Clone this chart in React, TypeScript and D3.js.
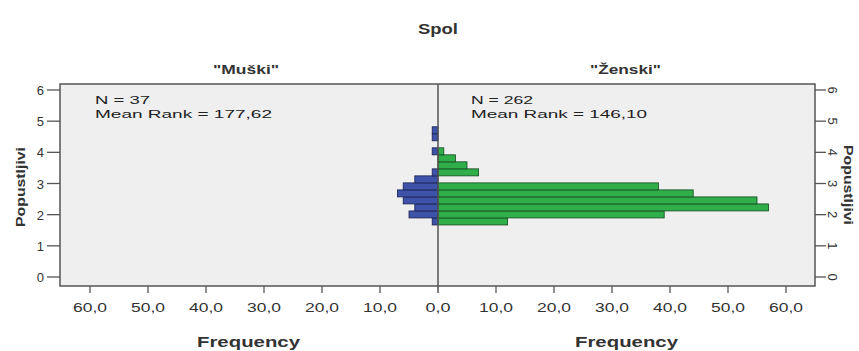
import React from "react";
import * as d3 from "d3";

const binLower = [1.67, 1.895, 2.12, 2.345, 2.57, 2.795, 3.02, 3.245, 3.47, 3.695, 3.92, 4.145, 4.37, 4.595];
const binWidth = 0.225;
const muskiFreq = [1, 5, 4, 6, 7, 6, 4, 1, 0, 0, 1, 0, 1, 1];
const zenskiFreq = [12, 39, 57, 55, 44, 38, 0, 7, 5, 3, 1, 0, 0, 0];
const yTicks = [0, 1, 2, 3, 4, 5, 6];
const xTicks = [0, 10, 20, 30, 40, 50, 60];
const groupNames = ["\"Muški\"", "\"Ženski\""];
const groupN = ["N = 37", "N = 262"];
const groupRank = ["Mean Rank = 177,62", "Mean Rank = 146,10"];

const W = 859, H = 351;
const L = 60, R = 815, T = 84, B = 286, C = 438;

export default function App() {
  const y = d3.scaleLinear().domain([0, 6]).range([277, 90]);
  const xl = d3.scaleLinear().domain([0, 65]).range([C, C - 65 * 5.8]);
  const xr = d3.scaleLinear().domain([0, 65]).range([C, C + 65 * 5.8]);
  const fmt = (v: number) => d3.format(".1f")(v).replace(".", ",");
  const tlen = (v: number) => (v === 0 ? 25 : 34);
  const txt = "#333";
  const font = "'Liberation Sans', Arial, sans-serif";
  const sq = "spacingAndGlyphs";
  return (
    <div style={{ position: "absolute", left: 0, top: 0 }}>
      <svg width={W} height={H} style={{ display: "block", fontFamily: font }}>
        <rect x={0} y={0} width={W} height={H} fill="#fff" />
        <text x={C - 20} y={34} fontSize={14} fontWeight="bold" fill={txt} textLength={40} lengthAdjust={sq}>Spol</text>
        <text x={213} y={74} fontSize={13} fontWeight="bold" fill={txt} textLength={66} lengthAdjust={sq}>{groupNames[0]}</text>
        <text x={590} y={74} fontSize={13} fontWeight="bold" fill={txt} textLength={71} lengthAdjust={sq}>{groupNames[1]}</text>
        <rect x={L} y={T} width={R - L} height={B - T} fill="#efefef" stroke="#555" strokeWidth={1.5} />
        {/* bars */}
        {binLower.map((b, i) =>
          muskiFreq[i] > 0 ? (
            <rect key={"m" + i} x={xl(muskiFreq[i])} y={y(b + binWidth)} width={xl(0) - xl(muskiFreq[i])}
              height={y(b) - y(b + binWidth)} fill="#3d52a8" stroke="#1a2050" strokeWidth={0.8} />
          ) : null
        )}
        {binLower.map((b, i) =>
          zenskiFreq[i] > 0 ? (
            <rect key={"z" + i} x={xr(0)} y={y(b + binWidth)} width={xr(zenskiFreq[i]) - xr(0)}
              height={y(b) - y(b + binWidth)} fill="#2fae4a" stroke="#144a1e" strokeWidth={0.8} />
          ) : null
        )}
        <line x1={C} x2={C} y1={T} y2={B + 7} stroke="#555" strokeWidth={1.5} />
        {/* y axes */}
        {yTicks.map((t) => (
          <g key={"yt" + t}>
            <line x1={L - 13} x2={L} y1={y(t)} y2={y(t)} stroke="#555" strokeWidth={1.3} />
            <text x={L - 16} y={y(t) + 5} textAnchor="end" fontSize={13} fill={txt}>{t}</text>
            <line x1={R} x2={R + 11} y1={y(t)} y2={y(t)} stroke="#555" strokeWidth={1.3} />
            <text x={0} y={0} textAnchor="middle" dominantBaseline="central" fontSize={13} fill={txt}
              transform={`translate(${R + 17}, ${y(t)}) rotate(90)`}>{t}</text>
          </g>
        ))}
        <text transform={`translate(25, 187) rotate(-90)`} textAnchor="middle" fontSize={12} fontWeight="bold" fill={txt} textLength={80} lengthAdjust={sq}>Popustljivi</text>
        <text transform={`translate(844, 185) rotate(90)`} textAnchor="middle" fontSize={12} fontWeight="bold" fill={txt} textLength={80} lengthAdjust={sq}>Popustljivi</text>
        {/* x axes */}
        {xTicks.map((t) => (
          <g key={"xl" + t}>
            {t > 0 && <line x1={xl(t)} x2={xl(t)} y1={B} y2={B + 7} stroke="#555" strokeWidth={1.3} />}
            <text x={xl(t) - tlen(t) / 2} y={312} fontSize={12} fill={txt} textLength={tlen(t)} lengthAdjust={sq}>{fmt(t)}</text>
          </g>
        ))}
        {xTicks.filter((t) => t > 0).map((t) => (
          <g key={"xr" + t}>
            <line x1={xr(t)} x2={xr(t)} y1={B} y2={B + 7} stroke="#555" strokeWidth={1.3} />
            <text x={xr(t) - tlen(t) / 2} y={312} fontSize={12} fill={txt} textLength={tlen(t)} lengthAdjust={sq}>{fmt(t)}</text>
          </g>
        ))}
        <text x={197} y={347} fontSize={14} fontWeight="bold" fill={txt} textLength={103} lengthAdjust={sq}>Frequency</text>
        <text x={575} y={347} fontSize={14} fontWeight="bold" fill={txt} textLength={103} lengthAdjust={sq}>Frequency</text>
        {/* annotations */}
        <text x={95} y={104} fontSize={11.5} fill="#222" textLength={55} lengthAdjust={sq}>{groupN[0]}</text>
        <text x={95} y={118} fontSize={11.5} fill="#222" textLength={177} lengthAdjust={sq}>{groupRank[0]}</text>
        <text x={471} y={104} fontSize={11.5} fill="#222" textLength={62} lengthAdjust={sq}>{groupN[1]}</text>
        <text x={471} y={118} fontSize={11.5} fill="#222" textLength={176} lengthAdjust={sq}>{groupRank[1]}</text>
      </svg>
    </div>
  );
}
